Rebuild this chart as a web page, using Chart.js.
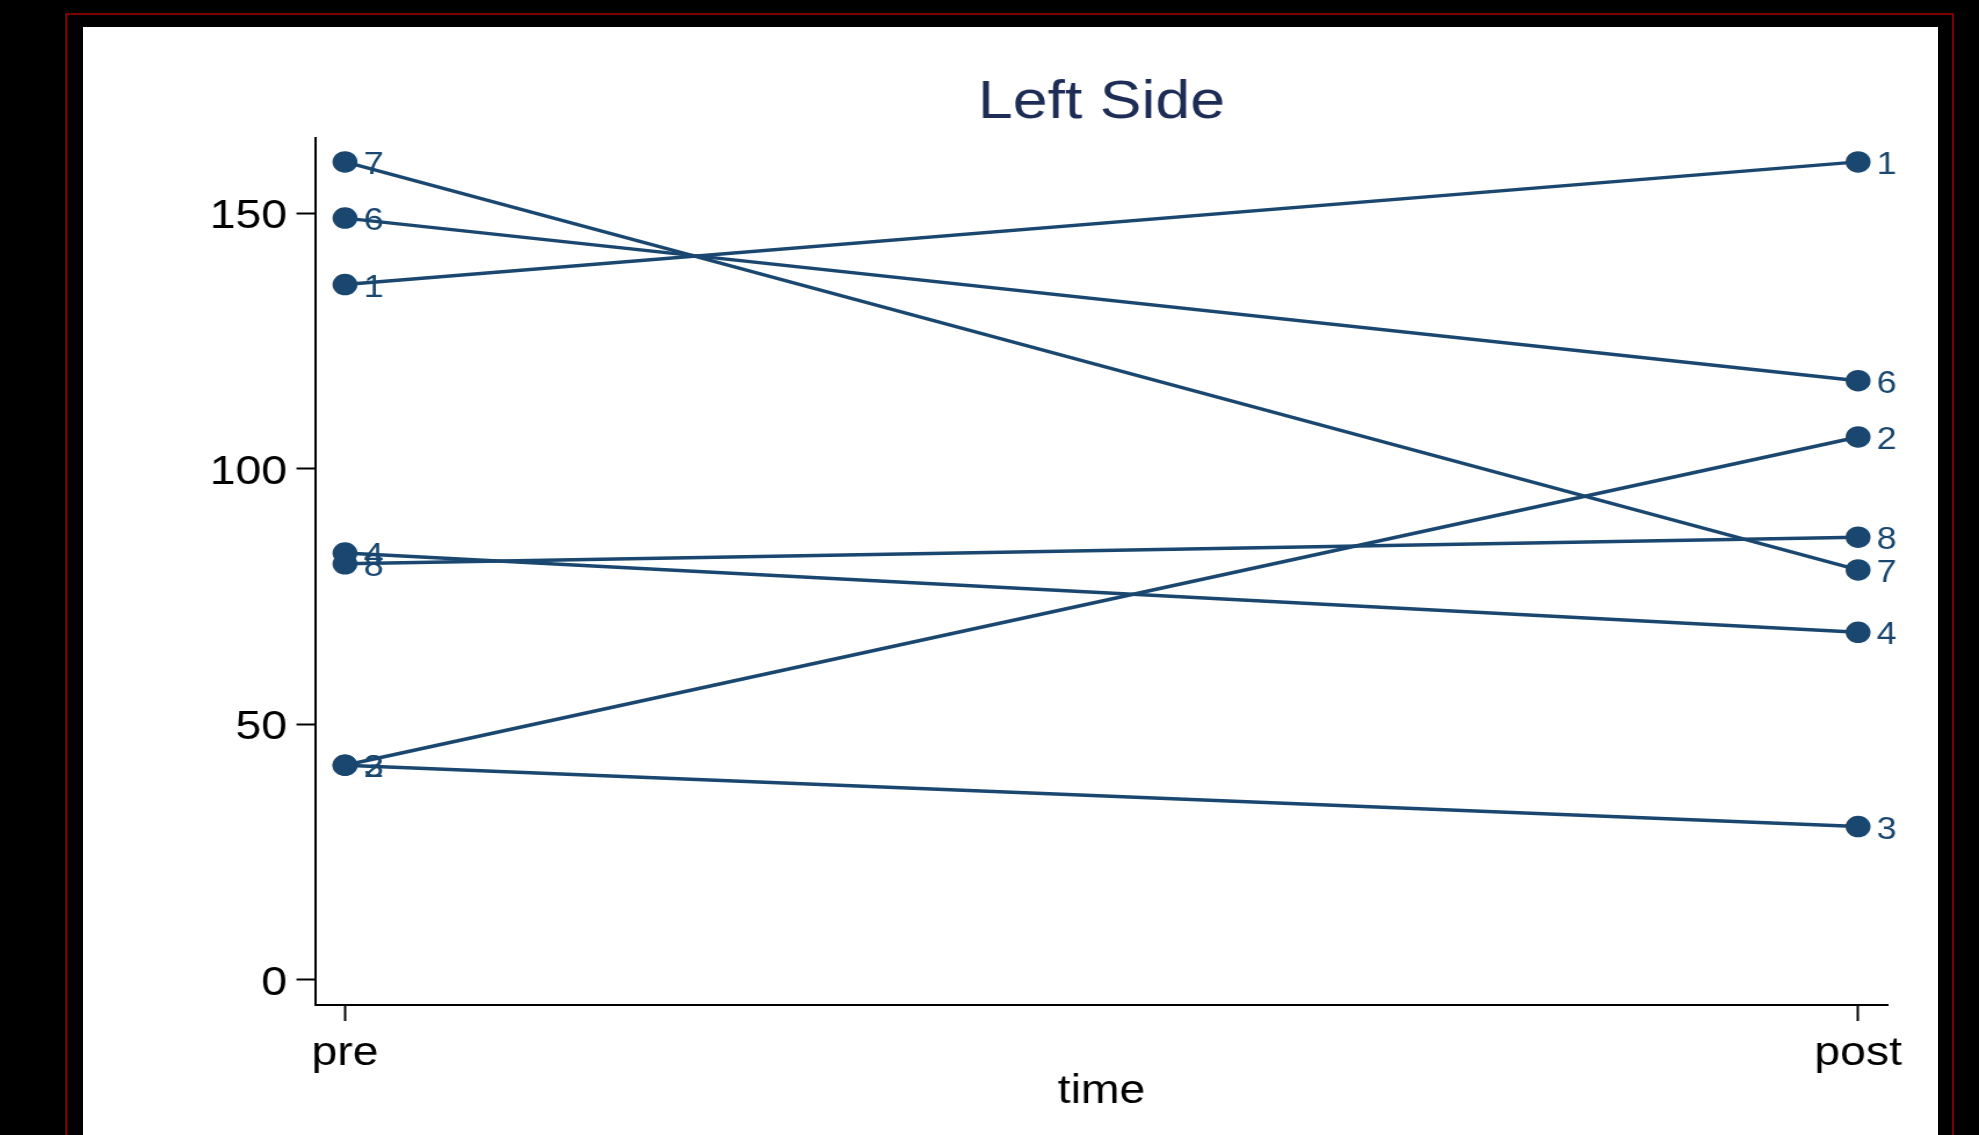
<!DOCTYPE html>
<html>
<head>
<meta charset="utf-8">
<script src="https://cdn.jsdelivr.net/npm/chart.js@4.4.1/dist/chart.umd.min.js"></script>
<style>
  html, body { margin: 0; padding: 0; background: #000; width: 1979px; height: 1135px; overflow: hidden; }
  #frame { position: absolute; left: 65px; top: 13px; width: 1889px; height: 1200px; border: 2px solid #7d0000; box-sizing: border-box; }
  #panel { position: absolute; left: 83px; top: 27px; width: 1855px; height: 1200px; background: #fff; }
  #stretch { position: absolute; left: 0; top: 0; width: 1706px; height: 1135px; transform: scaleX(1.16002); transform-origin: 0 0; }
  canvas { display: block; }
</style>
</head>
<body>
<div id="frame"></div>
<div id="panel"></div>
<div id="stretch"><canvas id="chart" width="1706" height="1135"></canvas></div>
<script>
// Measurements per subject, before and after
const timeLabels = ['pre', 'post'];
const subjectIds = ['1', '2', '3', '4', '6', '7', '8'];
const preValues  = [136, 42, 42, 83.5, 149, 160, 81.4];
const postValues = [160, 106.2, 30, 68, 117.2, 80.2, 86.6];
const yTickValues = [0, 50, 100, 150];

const NAVY = '#1a476f';
const FONT = '"Liberation Sans", Arial, Helvetica, sans-serif';

const datasets = subjectIds.map((id, i) => ({
  label: id,
  data: [
    { x: 0, y: preValues[i] },
    { x: 1, y: postValues[i] }
  ],
  borderColor: NAVY,
  backgroundColor: NAVY,
  borderWidth: 3.5,
  pointRadius: 10,
  pointBorderWidth: 1.5,
  pointBackgroundColor: NAVY,
  pointBorderColor: NAVY,
  tension: 0,
  clip: false
}));

// Writes each subject id to the right of its markers
const idLabels = {
  id: 'idLabels',
  afterDatasetsDraw(chart) {
    const ctx = chart.ctx;
    ctx.save();
    ctx.font = '31px ' + FONT;
    ctx.fillStyle = NAVY;
    ctx.textAlign = 'left';
    ctx.textBaseline = 'middle';
    chart.data.datasets.forEach((ds, i) => {
      chart.getDatasetMeta(i).data.forEach(pt => {
        ctx.fillText(ds.label, pt.x + 16, pt.y + 3.5);
      });
    });
    ctx.restore();
  }
};

new Chart(document.getElementById('chart'), {
  type: 'line',
  data: { datasets },
  plugins: [idLabels],
  options: {
    responsive: false,
    animation: false,
    events: [],
    layout: { padding: { left: 0, right: 78.4, top: 0, bottom: 0 } },
    plugins: {
      legend: { display: false },
      tooltip: { enabled: false },
      title: {
        display: true,
        text: 'Left Side',
        color: '#1e2d55',
        fullSize: false,
        font: { family: FONT, size: 54, weight: 'normal', lineHeight: 1.2 },
        padding: { top: 70.6, bottom: 2.6 }
      }
    },
    scales: {
      x: {
        type: 'linear',
        min: -0.0198,
        max: 1.0198,
        afterBuildTicks: s => { s.ticks = [{ value: 0 }, { value: 1 }]; },
        afterFit: s => { s.height = 130; },
        ticks: {
          color: '#000',
          font: { family: FONT, size: 40, lineHeight: 1.2 },
          padding: 9,
          maxRotation: 0,
          autoSkip: false,
          callback: (v, idx) => timeLabels[idx]
        },
        grid: { display: true, drawOnChartArea: false, drawTicks: true, tickLength: 16, tickColor: '#000', tickWidth: 2 },
        border: { display: true, color: '#000', width: 2 },
        title: {
          display: true,
          text: 'time',
          color: '#000',
          font: { family: FONT, size: 40, lineHeight: 1.2 },
          padding: { top: 0, bottom: 19 }
        }
      },
      y: {
        type: 'linear',
        min: -4.89,
        max: 164.67,
        afterBuildTicks: s => { s.ticks = yTickValues.map(v => ({ value: v })); },
        afterFit: s => { s.width = 271.55; },
        ticks: {
          color: '#000',
          font: { family: FONT, size: 40, lineHeight: 1.2 },
          padding: 8,
          labelOffset: 4
        },
        grid: { display: true, drawOnChartArea: false, drawTicks: true, tickLength: 16, tickColor: '#000', tickWidth: 2 },
        border: { display: true, color: '#000', width: 2 }
      }
    }
  }
});
</script>
</body>
</html>
